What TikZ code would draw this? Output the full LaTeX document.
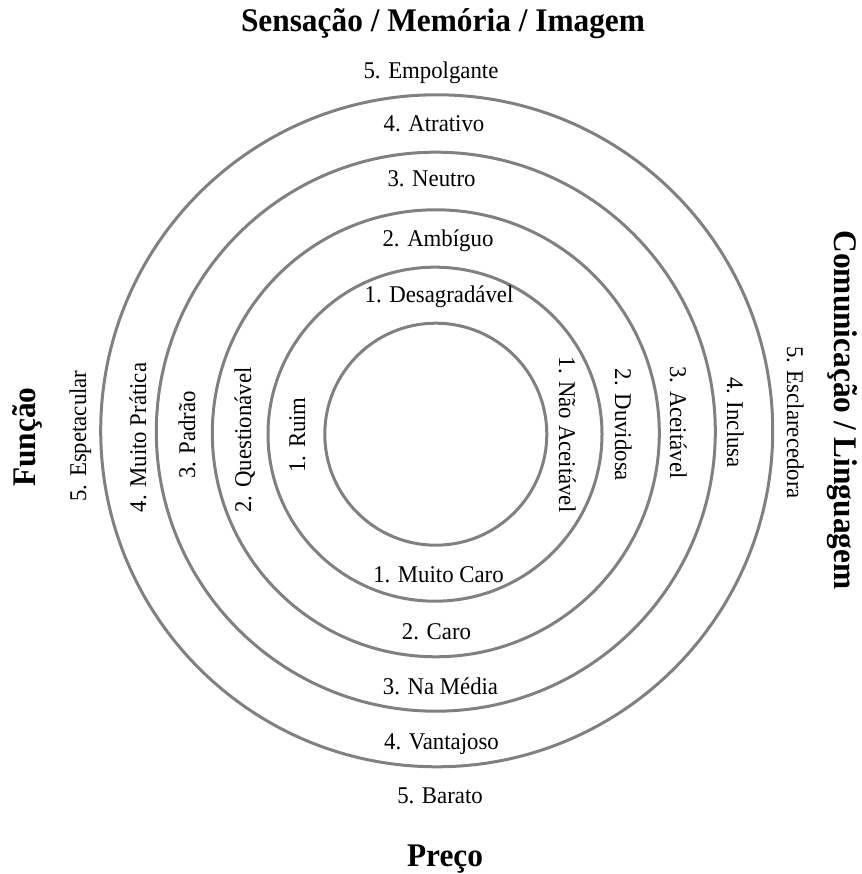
\documentclass[tikz,border=0pt]{standalone}
\usepackage{fontspec}
\setmainfont{Liberation Serif}[FakeStretch=0.95]

\tikzset{
  ring/.style={circle, draw=black!50, line width=3pt, inner sep=0pt, outer sep=0pt},
  lvl/.style={font=\fontsize{24}{28}\selectfont, inner sep=0pt, anchor=base},
  axis/.style={font=\fontsize{33}{38}\selectfont\bfseries, inner sep=0pt, anchor=base},
  upward/.style={rotate=90},
  downward/.style={rotate=-90}
}

\begin{document}
\begin{tikzpicture}[x=1pt, y=1pt]
  \useasboundingbox (0,0) rectangle (861,874);

  % concentric level rings
  \node[ring, minimum size=222pt] (ring1) at (435.8,439.8) {};
  \node[ring, minimum size=334pt] (ring2) at (435.0,439.8) {};
  \node[ring, minimum size=447pt] (ring3) at (435.8,440.7) {};
  \node[ring, minimum size=559pt] (ring4) at (435.8,442.3) {};
  \node[ring, minimum size=672pt] (ring5) at (436.7,443.2) {};

  % axis titles
  \node[axis] (tSens) at (443,842) {Sensação / Memória / Imagem};
  \node[axis] (tPreco) at (445,8) {Preço};
  \node[axis, upward] (tFunc) at (35,437) {Função};
  \node[axis, downward] (tCom) at (834,464) {Comunicação / Linguagem};

  % top levels
  \node[lvl] (s5) at (431,795) {5. Empolgante};
  \node[lvl] (s4) at (434,742) {4. Atrativo};
  \node[lvl] (s3) at (431.5,687) {3. Neutro};
  \node[lvl] (s2) at (438,627) {2. Ambíguo};
  \node[lvl] (s1) at (439,571) {1. Desagradável};

  % bottom levels
  \node[lvl] (p1) at (438.5,291) {1. Muito Caro};
  \node[lvl] (p2) at (436.5,234) {2. Caro};
  \node[lvl] (p3) at (440.5,179) {3. Na Média};
  \node[lvl] (p4) at (441.5,124) {4. Vantajoso};
  \node[lvl] (p5) at (440,70) {5. Barato};

  % left levels
  \node[lvl, upward] (f5) at (86,438) {5. Espetacular};
  \node[lvl, upward] (f4) at (146,436.5) {4. Muito Prática};
  \node[lvl, upward] (f3) at (195,439) {3. Padrão};
  \node[lvl, upward] (f2) at (251,434) {2. Questionável};
  \node[lvl, upward] (f1) at (305,439) {1. Ruim};

  % right levels
  \node[lvl, downward] (c1) at (559,439.5) {1. Não Aceitável};
  \node[lvl, downward] (c2) at (615,449) {2. Duvidosa};
  \node[lvl, downward] (c3) at (670,451.5) {3. Aceitável};
  \node[lvl, downward] (c4) at (727,451.5) {4. Inclusa};
  \node[lvl, downward] (c5) at (787,451.5) {5. Esclarecedora};
\end{tikzpicture}
\end{document}
